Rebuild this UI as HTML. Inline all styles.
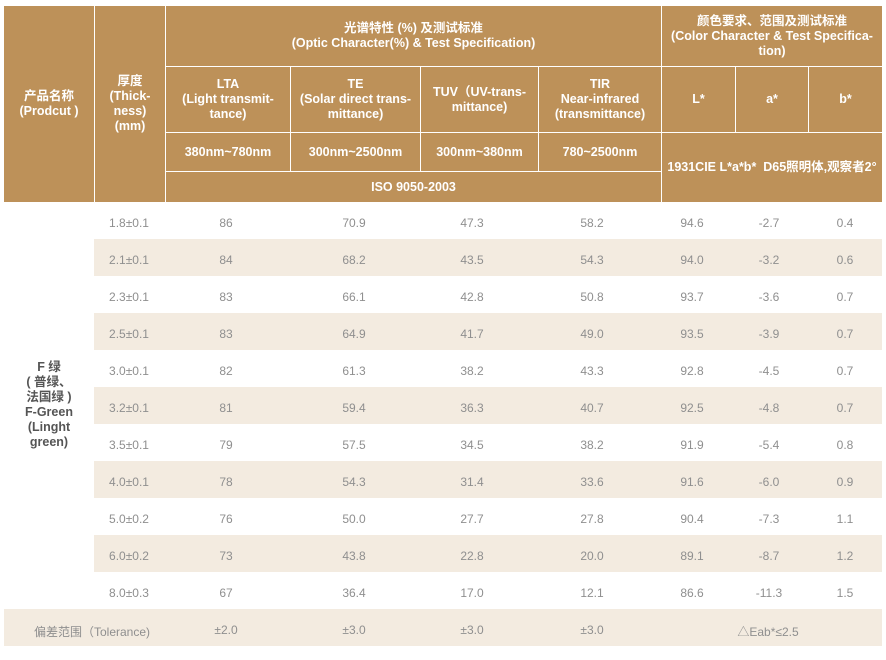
<!DOCTYPE html>
<html><head><meta charset="utf-8"><style>
body{margin:0;width:886px;height:660px;background:#fff;position:relative;overflow:hidden;font-family:"Liberation Sans","Noto Sans CJK SC",sans-serif}
.h{position:absolute;background:#bd9159;color:#fff;font-weight:bold;font-size:12.5px;line-height:15px;display:flex;align-items:center;justify-content:center;text-align:center;box-sizing:border-box}
.r{position:absolute;left:94px;width:788px;height:37px}
.s{background:#f3ebe0}
.c{position:absolute;font-size:12px;color:#8f8f8f;transform:translateX(-50%);white-space:nowrap}
</style></head><body>
<div class="h" style="left:4px;top:6px;width:90px;height:196px">产品名称<br>(Prodcut )</div>
<div class="h" style="left:95px;top:6px;width:70px;height:196px">厚度<br>(Thick-<br>ness)<br>(mm)</div>
<div class="h" style="left:166px;top:6px;width:495px;height:60px">光谱特性 (%) 及测试标准<br>(Optic Character(%) &amp; Test Specification)</div>
<div class="h" style="left:662px;top:6px;width:220px;height:60px">颜色要求、范围及测试标准<br>(Color Character &amp; Test Specifica-<br>tion)</div>
<div class="h" style="left:166px;top:67px;width:124px;height:65px">LTA<br>(Light transmit-<br>tance)</div>
<div class="h" style="left:291px;top:67px;width:129px;height:65px">TE<br>(Solar direct trans-<br>mittance)</div>
<div class="h" style="left:421px;top:67px;width:117px;height:65px">TUV（UV-trans-<br>mittance)</div>
<div class="h" style="left:539px;top:67px;width:122px;height:65px">TIR<br>Near-infrared<br>(transmittance)</div>
<div class="h" style="left:662px;top:67px;width:73px;height:65px">L*</div>
<div class="h" style="left:736px;top:67px;width:72px;height:65px">a*</div>
<div class="h" style="left:809px;top:67px;width:73px;height:65px">b*</div>
<div class="h" style="left:166px;top:133px;width:124px;height:38px">380nm~780nm</div>
<div class="h" style="left:291px;top:133px;width:129px;height:38px">300nm~2500nm</div>
<div class="h" style="left:421px;top:133px;width:117px;height:38px">300nm~380nm</div>
<div class="h" style="left:539px;top:133px;width:122px;height:38px">780~2500nm</div>
<div class="h" style="left:166px;top:172px;width:495px;height:30px">ISO 9050-2003</div>
<div class="h" style="left:662px;top:133px;width:220px;height:69px;white-space:nowrap">1931CIE L*a*b*&nbsp; D65照明体,观察者2°</div>
<div class="h" style="left:4px;top:350px;width:90px;height:110px;background:none;color:#555">F 绿<br>( 普绿、<br>法国绿 )<br>F-Green<br>(Linght<br>green)</div>
<div id="rows"></div>
<script>
var d=[["1.8±0.1",86,"70.9","47.3","58.2","94.6","-2.7","0.4"],["2.1±0.1",84,"68.2","43.5","54.3","94.0","-3.2","0.6"],["2.3±0.1",83,"66.1","42.8","50.8","93.7","-3.6","0.7"],["2.5±0.1",83,"64.9","41.7","49.0","93.5","-3.9","0.7"],["3.0±0.1",82,"61.3","38.2","43.3","92.8","-4.5","0.7"],["3.2±0.1",81,"59.4","36.3","40.7","92.5","-4.8","0.7"],["3.5±0.1",79,"57.5","34.5","38.2","91.9","-5.4","0.8"],["4.0±0.1",78,"54.3","31.4","33.6","91.6","-6.0","0.9"],["5.0±0.2",76,"50.0","27.7","27.8","90.4","-7.3","1.1"],["6.0±0.2",73,"43.8","22.8","20.0","89.1","-8.7","1.2"],["8.0±0.3",67,"36.4","17.0","12.1","86.6","-11.3","1.5"]];
var x=[129,226,354,472,592,692,769,845],h="";
d.forEach(function(r,i){var t=202+i*37;if(i%2)h+='<div class="r s" style="top:'+t+'px"></div>';r.forEach(function(v,j){h+='<div class="c" style="left:'+x[j]+'px;top:'+(t+14)+'px">'+v+'</div>'})});
h+='<div class="r s" style="left:4px;width:878px;top:609px"></div>';
[["偏差范围（Tolerance)",92],["±2.0",226],["±3.0",354],["±3.0",472],["±3.0",592],["△Eab*≤2.5",768]].forEach(function(a){h+='<div class="c" style="left:'+a[1]+'px;top:623px">'+a[0]+'</div>'});
document.getElementById("rows").innerHTML=h;
</script>
</body></html>
